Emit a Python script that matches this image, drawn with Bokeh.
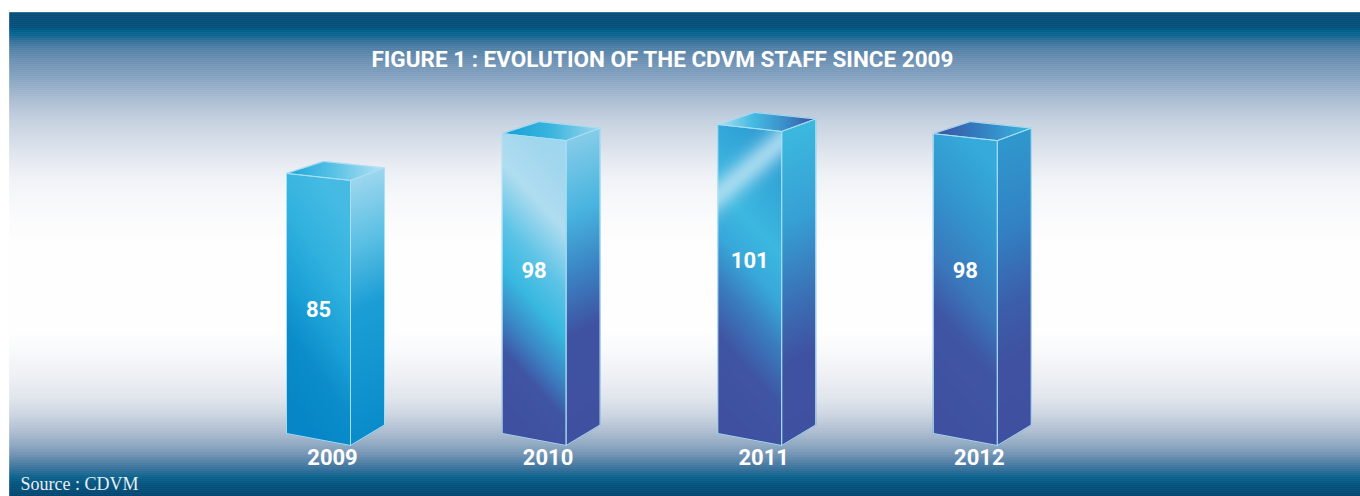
import numpy as np
from bokeh.plotting import figure
from bokeh.models import Range1d
from bokeh.core.properties import value
from bokeh.embed import file_html
from bokeh.resources import INLINE

# ---------------- data ----------------
years = ["2009", "2010", "2011", "2012"]
staff = [85, 98, 101, 98]
value_labels = ["85", "98", "101", "98"]
title_text = "FIGURE 1 : EVOLUTION  OF THE CDVM STAFF SINCE 2009"
source_text = "Source : CDVM"

# ---------------- layout constants (pixels) ----------------
W, H = 1360, 496
K = 3.06          # px per staff unit
BASE = 63         # baseline (front-left bottom) above figure bottom
X0 = 286          # front-left x of first bar
STEP = 215.6
FW = 64           # front width
DX = 98           # back-right x offset
BLX, BLY = 37, 12 # back-left offset of top face
TDROP = 7         # front top edge drop to the right
BDROP = 12        # front bottom edge drop to the right
SRISE = 12.5      # side top rise
BRISE = 8.5       # back-right bottom above baseline

def uy(Ypx):
    """pixel above figure bottom -> value units"""
    return (np.asarray(Ypx, float) - BASE) / K

def top_px(y):
    """pixel from top of figure -> value units"""
    return uy(H - np.asarray(y, float))

FONT_B = "Roboto"

p = figure(width=W, height=H, x_range=Range1d(0, W), y_range=Range1d(uy(0), uy(H)),
           output_backend="svg", toolbar_location=None, min_border=0,
           x_axis_location=None, y_axis_location=None)
p.grid.visible = False
p.outline_line_color = None
p.background_fill_color = "white"
p.border_fill_color = "white"

def hex2rgb(h):
    return np.array([int(h[i:i + 2], 16) for i in (1, 3, 5)], float)

def ramp(s, stops):
    pos = np.array([a for a, _ in stops])
    cols = np.array([hex2rgb(c) for _, c in stops])
    s = np.clip(s, 0, 1)
    return np.stack([np.interp(s, pos, cols[:, k]) for k in range(3)], axis=-1)

def to_hex(rgb):
    return "#%02x%02x%02x" % tuple(int(round(c)) for c in rgb)

# ---------------- background gradient ----------------
bg_stops = [(12, "#044e79"), (27, "#044f7a"), (31, "#00618b"), (35, "#0a6590"),
            (40, "#2f6f98"), (47, "#4d7ea5"), (60, "#6c90b3"), (80, "#8aa6c3"),
            (95, "#a3b8cf"), (110, "#b8c7d9"), (125, "#c9d4e1"), (145, "#d8dfe9"),
            (160, "#e5e9f0"), (178, "#eff2f6"), (200, "#f7f8fa"), (230, "#fcfcfd"),
            (250, "#fefefe"), (330, "#fefefe"), (352, "#f8f9fb"), (375, "#eef0f4"),
            (398, "#e0e5ec"), (415, "#cbd4e0"), (430, "#b0bfd2"), (445, "#8ea7c1"),
            (455, "#6e91b2"), (463, "#4e7da4"), (470, "#2f6e98"), (477, "#09628c"),
            (484, "#03537e"), (496, "#034570")]
bp = np.array([a for a, _ in bg_stops], float)
bc = np.array([hex2rgb(c) for _, c in bg_stops])
band_top = np.arange(12, 496, 2)
band_bot = band_top + 2
mid = band_top + 1
band_cols = [to_hex([np.interp(m, bp, bc[:, k]) for k in range(3)]) for m in mid]
p.quad(left=9, right=W, top=top_px(band_top), bottom=top_px(band_bot),
       fill_color=band_cols, line_color=band_cols, line_width=0.6)

# ---------------- bar colour schemes ----------------
schemes = [
    dict(fc=0.3, hl=None,
         front=[(0, "#45bbe3"), (0.3, "#30b1de"), (0.55, "#1a9fd6"), (0.75, "#0c8dca"), (1, "#0686c6")],
         side=[(0, "#9dd6ee"), (0.25, "#5bc0e4"), (0.5, "#1c9ed5"), (1, "#0a8ccb")],
         top=[(0, "#1aa6da"), (0.5, "#5cc3e6"), (1, "#b6e2f3")]),
    dict(fc=0.2, hl=None,
         front=[(0, "#a0d6ee"), (0.2, "#b0ddf0"), (0.4, "#5cc3e6"), (0.55, "#38b8e0"),
                (0.7, "#3a86c4"), (0.82, "#3f55a3"), (1, "#3f50a0")],
         side=[(0, "#86cce9"), (0.25, "#48b4df"), (0.45, "#3a84c3"), (0.65, "#3f52a1"), (1, "#3f50a0")],
         top=[(0, "#14a0d6"), (0.5, "#3ab5de"), (1, "#9cd7ee")]),
    dict(fc=0.2, hl=(0.03, 0.2, 0.06, "#b3e0f2", 0.85),
         front=[(0, "#2f9fd5"), (0.3, "#3bb8e0"), (0.45, "#38a8da"), (0.6, "#3a7dbf"),
                (0.78, "#3f55a3"), (1, "#3f50a0")],
         side=[(0, "#3cb9df"), (0.3, "#36a0d4"), (0.55, "#3a72b6"), (0.75, "#3f52a1"), (1, "#3f50a0")],
         top=[(0, "#b4e1f2"), (0.35, "#45bce2"), (0.7, "#3a8cc8"), (1, "#3a4fa0")]),
    dict(fc=0.2, hl=None,
         front=[(0, "#35aadb"), (0.25, "#3395cd"), (0.5, "#3a78bc"), (0.68, "#3f56a4"), (1, "#3f50a0")],
         side=[(0, "#3098cd"), (0.3, "#3282c3"), (0.55, "#3c5fab"), (0.75, "#3f51a0"), (1, "#3f50a0")],
         top=[(0, "#3f51a0"), (0.4, "#3476bc"), (1, "#3ab8df")]),
]

def inside(px, py_, poly):
    pos = np.ones(px.shape, bool)
    neg = np.ones(px.shape, bool)
    n = len(poly)
    for i in range(n):
        x1, y1 = poly[i]
        x2, y2 = poly[(i + 1) % n]
        c = (x2 - x1) * (py_ - y1) - (y2 - y1) * (px - x1)
        pos &= c >= 0
        neg &= c <= 0
    return pos | neg

outline_xs, outline_ys = [], []
SS = 3
for i, v in enumerate(staff):
    sc = schemes[i]
    FL = X0 + i * STEP
    FLt = BASE + K * v
    front = [(FL, BASE), (FL + FW, BASE - BDROP), (FL + FW, FLt - TDROP), (FL, FLt)]
    side = [(FL + FW, BASE - BDROP), (FL + DX, BASE + BRISE), (FL + DX, FLt - TDROP + SRISE), (FL + FW, FLt - TDROP)]
    top = [(FL, FLt), (FL + FW, FLt - TDROP), (FL + DX, FLt - TDROP + SRISE), (FL + BLX, FLt + BLY)]

    left = int(np.floor(FL)) - 2
    right = int(np.ceil(FL + DX)) + 2
    bottom = int(np.floor(BASE - BDROP)) - 2
    topY = int(np.ceil(FLt + BLY)) + 2
    w, h = right - left, topY - bottom
    xs = left + (np.arange(w * SS) + 0.5) / SS
    ys = bottom + (np.arange(h * SS) + 0.5) / SS
    GX, GY = np.meshgrid(xs, ys)
    rgb = np.zeros(GX.shape + (3,))
    a = np.zeros(GX.shape)

    # top face
    m = inside(GX, GY, top)
    u = (GX - FL) / DX
    rgb[m] = ramp(u[m], sc["top"]); a[m] = 1
    # side face
    m = inside(GX, GY, side)
    u = (GX - FL - FW) / (DX - FW)
    yt = FLt - TDROP + SRISE * u
    yb = BASE - BDROP + (BRISE + BDROP) * u
    t = (yt - GY) / (yt - yb)
    rgb[m] = ramp(t[m], sc["side"]); a[m] = 1
    # front face
    m = inside(GX, GY, front)
    u = (GX - FL) / FW
    yt = FLt - TDROP * u
    yb = BASE - BDROP * u
    t = (yt - GY) / (yt - yb)
    s = t + sc["fc"] * (0.5 - u)
    col = ramp(s, sc["front"])
    if sc["hl"] is not None:
        a0, b0, wd, hc, strength = sc["hl"]
        wgt = strength * np.exp(-((t - (a0 + b0 * (1 - u))) / wd) ** 2)
        col = col * (1 - wgt[..., None]) + hex2rgb(hc) * wgt[..., None]
    rgb[m] = col[m]; a[m] = 1

    A = a.reshape(h, SS, w, SS).mean(axis=(1, 3))
    C = (rgb * a[..., None]).reshape(h, SS, w, SS, 3).sum(axis=(1, 3))
    cnt = a.reshape(h, SS, w, SS).sum(axis=(1, 3))
    C = C / np.maximum(cnt, 1)[..., None]
    img = np.zeros((h, w, 4), dtype=np.uint8)
    img[..., :3] = np.clip(np.round(C), 0, 255).astype(np.uint8)
    img[..., 3] = np.clip(np.round(A * 255), 0, 255).astype(np.uint8)
    p.image_rgba(image=[img.view(dtype=np.uint32).reshape(h, w)], x=left, y=uy(bottom),
                 dw=w, dh=h / K)

    for poly in (front, side, top):
        outline_xs.append([q[0] for q in poly])
        outline_ys.append(list(uy([q[1] for q in poly])))

p.patches(xs=outline_xs, ys=outline_ys, fill_alpha=0, line_color="#a8e0f6",
          line_width=1, line_alpha=0.9, line_join="miter")

# ---------------- labels ----------------
centers_front = [X0 + i * STEP + FW / 2 for i in range(len(staff))]
centers_year = [X0 + i * STEP + 46 for i in range(len(staff))]
p.text(x=centers_front, y=[v - 136 / K for v in staff], text=value_labels,
       text_color="white", text_font=value(FONT_B), text_font_style="bold",
       text_font_size="22px", text_align="center", text_baseline="middle")
p.text(x=centers_year, y=[top_px(456.5)] * len(years), text=years,
       text_color="white", text_font=value(FONT_B), text_font_style="bold",
       text_font_size="22px", text_align="center", text_baseline="middle")
p.text(x=[665], y=[top_px(58)], text=[title_text],
       text_color="white", text_font=value(FONT_B), text_font_style="bold",
       text_font_size="22.5px", text_align="center", text_baseline="middle")
p.text(x=[20], y=[top_px(483)], text=[source_text],
       text_color="#e8eef4", text_font=value("Liberation Serif"),
       text_font_size="18px", text_align="left", text_baseline="middle")

open("out.html", "w").write(file_html(p, INLINE))
